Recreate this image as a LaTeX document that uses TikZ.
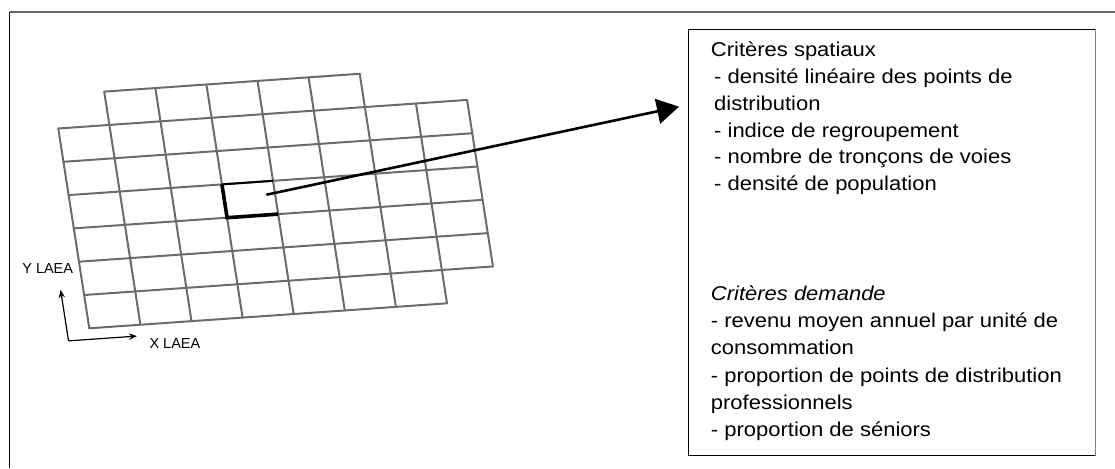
\documentclass[tikz,border=0pt]{standalone}
\usepackage{fontspec}
\setmainfont{Liberation Sans}
\newfontfamily\critfont{Liberation Sans}[FakeStretch=1.1]
\usepackage{tikz}
\usetikzlibrary{arrows.meta, positioning, calc}

\begin{document}
\begin{tikzpicture}[
      x=1pt, y=-1pt,
      grille/.style={draw=black!58, line width=2pt, line cap=round},
      encadre/.style={draw, line width=0.8pt, minimum width=407pt,
                      minimum height=426pt, inner sep=0pt},
      critere/.style={font=\critfont\fontsize{20}{24}\selectfont,
                      anchor=base west, inner sep=0pt},
      axe/.style={font=\fontsize{14.5}{16}\selectfont, inner sep=0pt},
      fleche/.style={-{Triangle[length=22pt, width=25pt]}, line width=2.6pt},
      fleche axe/.style={-{Stealth[length=8pt, width=6.5pt]}, line width=1.2pt}]
    \useasboundingbox (0,0) rectangle (1115,468);
    % cadre
    \draw[black!60, line width=1.2pt] (9.5,12) -- (1115,12);
    \draw[line width=1.3pt] (9.5,12) -- (9.5,468);
    % grille LAEA
    \begin{scope}[shift={(89.3,328.3)}, x={(51.1pt,3.57pt)}, y={(-5.17pt,33.3pt)}]
      \foreach \j/\a/\b in {0/0/7, 1/0/8, 2/0/8, 3/0/8, 4/0/8, 5/0/8, 6/0/8, 7/1/6}
        \draw[grille] (\a,\j) -- (\b,\j);
      \foreach \i/\a/\b in {0/0/6, 1/0/7, 2/0/7, 3/0/7, 4/0/7, 5/0/7, 6/0/7, 7/0/6, 8/1/6}
        \draw[grille] (\i,\a) -- (\i,\b);
      % maille choisie
      \draw[line width=2pt] (4,4) -- (3,4);
      \draw[line width=3.6pt] (3,4) -- (3,3) -- (4,3);
      \coordinate (maille) at (3.83,3.6);
      \coordinate (origine) at (-0.44,-0.33);
      \coordinate (xfin) at (0.9,-0.33);
      \coordinate (yfin) at (-0.44,1.2);
    \end{scope}
    % axes
    \draw[fleche axe] (origine) -- (yfin);
    \draw[fleche axe] (origine) -- (xfin);
    \node[axe, anchor=base east] (ylaea) at (73.3,273.3) {Y LAEA};
    \node[axe, anchor=base west] (xlaea) at (149.3,348.3) {X LAEA};
    % criteres
    \node[encadre] (criteres) at (891.4,242.2) {};
    \draw[black!50, line width=1.6pt] (criteres.north east) -- (criteres.south east);
    \coordinate (pointe) at (679,106.7);
    \draw[fleche] (maille) -- (pointe);
    \node[critere] (spatiaux) at (710.7,56.5) {Critères spatiaux};
    \foreach \t [count=\k from 0] in {- densité linéaire des points de, distribution,
        - indice de  regroupement, - nombre de tronçons de voies, - densité de population}
      \node[critere] (spatial\k) at (714,83.5+26.8*\k) {\t};
    \node[critere] (demande) at (710.7,300) {\itshape Critères demande};
    \foreach \t [count=\k from 0] in {- revenu moyen annuel par unité de, consommation,
        - proportion de points de distribution, professionnels, - proportion de séniors}
      \node[critere] (dem\k) at (710.7,327.3+27.35*\k) {\t};
  \end{tikzpicture}
\end{document}
